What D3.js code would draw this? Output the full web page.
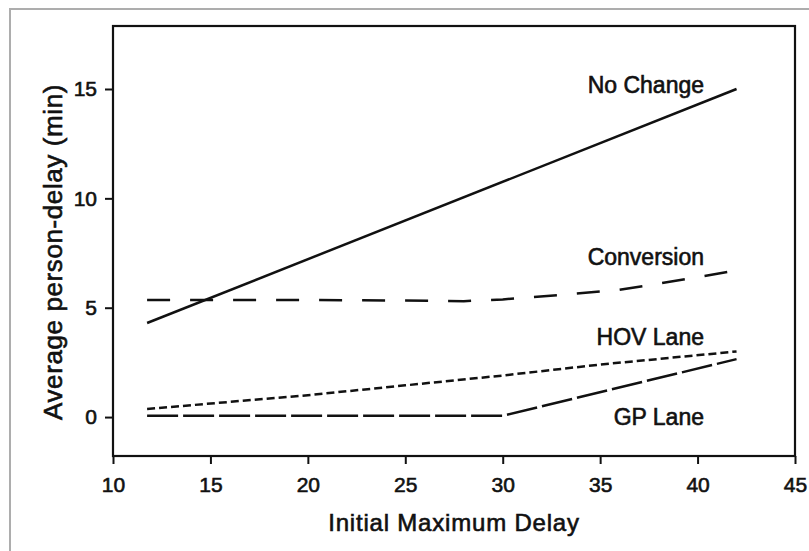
<!DOCTYPE html>
<html lang="en">
<head>
<meta charset="UTF-8">
<title>Average person-delay</title>
<script src="https://d3js.org/d3.v7.min.js"></script>
<style>
    body{ margin:0; background:#fff; }
    svg text{ font-family:"Liberation Sans", Arial, sans-serif; fill:#111; }
</style>
</head>
<body>
<svg id="chart" width="809" height="551"></svg>
<script>
    // values
    const xTicks = [10, 15, 20, 25, 30, 35, 40, 45];
    const yTicks = [0, 5, 10, 15];

    const noChangeX = [11.75, 42];
    const noChangeY = [4.3, 15.0];

    const conversionX = [11.75, 15, 20, 25, 28, 30, 33, 36, 38, 40, 42];
    const conversionY = [5.35, 5.35, 5.35, 5.33, 5.3, 5.38, 5.58, 5.82, 6.1, 6.4, 6.7];

    const hovX = [11.75, 20, 25, 30, 35, 42];
    const hovY = [0.37, 1.0, 1.45, 1.9, 2.4, 3.0];

    const gpX = [11.75, 30, 42];
    const gpY = [0.06, 0.06, 2.65];

    const seriesNames = ['No Change', 'Conversion', 'HOV Lane', 'GP Lane'];
    const labelX = [40.33, 40.33, 40.33, 40.33];
    const labelY = [14.8, 6.95, 3.3, -0.37];

    const svg = d3.select('#chart');
    const margin = {left:113, right:14, top:26, bottom:95};
    const width = 809, height = 551;

    const x = d3.scaleLinear().domain([10,45]).range([margin.left, width-margin.right]);
    const y = d3.scaleLinear().domain([-1.78,17.88]).range([height-margin.bottom, margin.top]);

    // grey page border (scan edge)
    svg.append('path')
        .attr('d', `M10,${height+5} V9 H${width+5}`)
        .attr('fill','none')
        .attr('stroke','#adadad')
        .attr('stroke-width',2);

    // axes
    const xAxis = svg.append('g')
        .attr('transform',`translate(0,${y.range()[0]})`)
        .call(d3.axisBottom(x).tickValues(xTicks).tickSize(8).tickPadding(13));
    const yAxis = svg.append('g')
        .attr('transform',`translate(${x.range()[0]},0)`)
        .call(d3.axisLeft(y).tickValues(yTicks).tickSize(8).tickPadding(8));

    [xAxis, yAxis].forEach(a=>{
        a.select('.domain').remove();
        a.selectAll('line').attr('stroke','#111').attr('stroke-width',2);
        a.selectAll('text')
            .attr('font-size',21)
            .attr('font-family','"Liberation Sans", Arial, sans-serif')
            .attr('fill','#111')
            .attr('stroke','#111')
            .attr('stroke-width',0.6);
    });

    // frame
    svg.append('rect')
        .attr('x', x.range()[0])
        .attr('y', y.range()[1])
        .attr('width', x.range()[1]-x.range()[0])
        .attr('height', y.range()[0]-y.range()[1])
        .attr('fill','none')
        .attr('stroke','#111')
        .attr('stroke-width',2.2);

    // lines
    const line = d3.line().x(d=>x(d[0])).y(d=>y(d[1]));
    const series = [
        {xs:noChangeX, ys:noChangeY, dash:null},
        {xs:conversionX, ys:conversionY, dash:'23,20'},
        {xs:hovX, ys:hovY, dash:'8,4'},
        {xs:gpX, ys:gpY, dash:'31,5'}
    ];
    svg.append('g').selectAll('path')
        .data(series)
        .join('path')
        .attr('d', s=>line(s.xs.map((v,i)=>[v, s.ys[i]])))
        .attr('fill','none')
        .attr('stroke','#111')
        .attr('stroke-width',2.5)
        .attr('stroke-dasharray', s=>s.dash);

    // series labels
    svg.append('g').selectAll('text')
        .data(seriesNames)
        .join('text')
        .attr('x',(d,i)=>x(labelX[i]))
        .attr('y',(d,i)=>y(labelY[i]))
        .attr('text-anchor','end')
        .attr('font-size',23)
        .attr('stroke','#111')
        .attr('stroke-width',0.6)
        .text(d=>d);

    // axis titles
    svg.append('text')
        .attr('x',(x.range()[0]+x.range()[1])/2)
        .attr('y',531)
        .attr('text-anchor','middle')
        .attr('font-size',24)
        .attr('letter-spacing',0.8)
        .attr('stroke','#111')
        .attr('stroke-width',0.6)
        .text('Initial Maximum Delay');

    svg.append('text')
        .attr('transform','translate(62,252) rotate(-90)')
        .attr('text-anchor','middle')
        .attr('font-size',26)
        .attr('letter-spacing',0.6)
        .attr('stroke','#111')
        .attr('stroke-width',0.6)
        .text('Average person-delay (min)');
</script>
</body>
</html>
